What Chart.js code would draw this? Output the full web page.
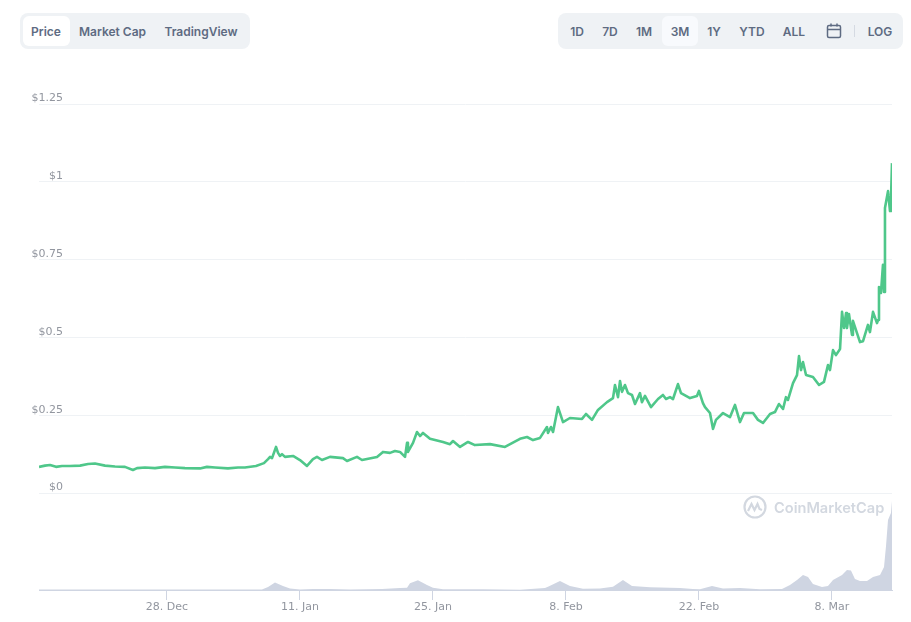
<!DOCTYPE html>
<html>
<head>
<meta charset="utf-8">
<title>Price chart</title>
<script src="https://cdn.jsdelivr.net/npm/chart.js@4/dist/chart.umd.min.js"></script>
<style>
html, body { margin: 0; padding: 0; background: #fff; overflow: hidden; }
#wrap { position: relative; width: 911px; height: 622px; font-family: Inter, sans-serif; }
#graph { position: absolute; left: 0; top: 0; }
.group { position: absolute; top: 13px; height: 36px; background: #eff2f5; border-radius: 8px; }
.active { position: absolute; top: 16px; height: 30px; border-radius: 6px; }
.btn { position: absolute; top: 31px; transform: translate(-50%, -50%); font-size: 12px; font-weight: 600; color: #5e6b82; white-space: nowrap; }
#mark { position: absolute; left: 774px; top: 498px; font-size: 14.6px; font-weight: 600; color: #d3d8e0; line-height: 20px; }
</style>
</head>
<body>
<div id="wrap">
  <canvas id="graph" width="911" height="622"></canvas>
  <div class="group" style="left:20px;width:230px"></div>
  <div class="active" style="left:23px;width:47px;background:#fff"></div>
  <span class="btn" style="left:46px">Price</span>
  <span class="btn" style="left:112.5px">Market Cap</span>
  <span class="btn" style="left:201px">TradingView</span>
  <div class="group" style="left:558px;width:345px"></div>
  <div class="active" style="left:662px;width:36px;background:#f8fafd"></div>
  <span class="btn" style="left:577px">1D</span>
  <span class="btn" style="left:610px">7D</span>
  <span class="btn" style="left:644px">1M</span>
  <span class="btn" style="left:680px">3M</span>
  <span class="btn" style="left:714px">1Y</span>
  <span class="btn" style="left:752px">YTD</span>
  <span class="btn" style="left:794px">ALL</span>
  <svg style="position:absolute;left:826px;top:23px" width="16" height="16" viewBox="0 0 16 16" fill="none" stroke="#5e6b82" stroke-width="1.5">
    <rect x="1.5" y="2.5" width="13" height="12" rx="1.5"></rect>
    <path d="M1.5 6.5h13M5 0.5v3M11 0.5v3"></path>
  </svg>
  <div style="position:absolute;left:854px;top:25px;width:1px;height:12px;background:#d5dae2"></div>
  <span class="btn" style="left:880px">LOG</span>
  <svg style="position:absolute;left:743px;top:495px" width="24" height="24" viewBox="0 0 24 24" fill="none" stroke="#d3d8e0" stroke-width="2.2">
    <circle cx="12" cy="12" r="10.5"></circle>
    <path d="M5 16l3.5-7 3 6 3-6 2 5 2.5 1"></path>
  </svg>
  <div id="mark">CoinMarketCap</div>
</div>
<script>
// days since the left edge of the plot
const priceDays = [
    0, 0.63, 1.16, 1.79, 2.42, 3.26, 4.32, 5.16, 5.89, 6.95, 8, 9.05, 9.89, 10.32, 11.16, 12.21, 13.26, 14.32, 15.37, 16.95,
    17.68, 18.53, 19.89, 20.95, 21.68, 22.84, 23.68, 24.11, 24.32, 24.53, 24.95, 25.16, 25.37, 25.58, 25.89, 26.74, 27.47, 28.21, 28.84, 29.26,
    29.79, 30.63, 32, 32.42, 33.47, 34, 35.58, 36.21, 36.95, 37.47, 38, 38.53, 38.74, 38.84, 39.37, 39.79, 40.11, 40.42, 41.16, 42.53,
    43.26, 43.58, 44.32, 45.16, 45.89, 47.47, 49.05, 50.63, 51.37, 52, 52.74, 53.47, 53.58, 53.89, 54.11, 54.63, 55.16, 55.89, 57.16, 57.58,
    58.21, 58.84, 59.79, 60.42, 60.63, 60.95, 61.16, 61.37, 61.68, 62, 62.42, 62.74, 63.26, 63.47, 63.79, 64.42, 65.16, 65.68, 66, 66.42,
    66.74, 67.26, 67.58, 68.53, 69.26, 69.47, 69.89, 70.11, 70.63, 70.95, 71.26, 72, 72.74, 73.26, 73.79, 74.21, 75.16, 75.68, 76.21, 76.95,
    77.47, 77.89, 78.32, 78.63, 78.84, 79.37, 79.79, 80, 80.21, 80.42, 80.74, 81.47, 82.11, 82.63, 83.05, 83.26, 83.58, 83.89, 84.32, 84.53,
    84.74, 84.95, 85.05, 85.26, 85.58, 85.68, 86.42, 86.74, 87.26, 87.47, 87.79, 88.21, 88.32, 88.42, 88.63, 88.84, 88.95, 89.05, 89.37, 89.58,
    89.68, 89.79
];
const prices = [
    0.084, 0.088, 0.09, 0.084, 0.087, 0.087, 0.088, 0.093, 0.095, 0.088, 0.085, 0.084, 0.074, 0.08, 0.082, 0.08, 0.084, 0.082, 0.08, 0.079,
    0.084, 0.082, 0.079, 0.082, 0.082, 0.087, 0.096, 0.109, 0.116, 0.112, 0.148, 0.129, 0.119, 0.125, 0.116, 0.119, 0.106, 0.087, 0.109, 0.116,
    0.106, 0.116, 0.112, 0.103, 0.116, 0.106, 0.116, 0.132, 0.129, 0.135, 0.132, 0.116, 0.161, 0.132, 0.161, 0.196, 0.183, 0.193, 0.174, 0.164,
    0.157, 0.167, 0.148, 0.164, 0.154, 0.157, 0.148, 0.174, 0.18, 0.17, 0.177, 0.212, 0.193, 0.212, 0.196, 0.276, 0.228, 0.241, 0.238, 0.254,
    0.235, 0.267, 0.292, 0.305, 0.347, 0.308, 0.36, 0.325, 0.347, 0.321, 0.315, 0.286, 0.321, 0.292, 0.312, 0.276, 0.302, 0.315, 0.302, 0.308,
    0.302, 0.35, 0.321, 0.305, 0.312, 0.328, 0.289, 0.276, 0.257, 0.206, 0.235, 0.257, 0.244, 0.283, 0.228, 0.257, 0.257, 0.235, 0.225, 0.254,
    0.26, 0.286, 0.27, 0.308, 0.299, 0.353, 0.379, 0.44, 0.395, 0.421, 0.379, 0.373, 0.347, 0.357, 0.411, 0.395, 0.459, 0.443, 0.463, 0.582,
    0.53, 0.578, 0.53, 0.575, 0.508, 0.553, 0.485, 0.488, 0.54, 0.517, 0.582, 0.546, 0.556, 0.662, 0.643, 0.733, 0.646, 0.916, 0.97, 0.906,
    0.941, 1.06
];
const volumeDays = [
    0, 23.47, 24.11, 24.84, 25.68, 26.42, 27.47, 28.84, 30.63, 32.74, 36.11, 38, 38.74, 39.05, 39.89, 40.84, 41.47, 42.53, 46.74, 50.63,
    53.26, 53.58, 54.84, 55.89, 57.26, 59.05, 60.42, 61.47, 62.42, 64.32, 67.47, 68.84, 69.58, 70.84, 72, 73.79, 75.89, 78.21, 79.05, 79.79,
    80.42, 80.95, 81.47, 82.42, 83.05, 83.58, 84.53, 85.05, 85.47, 85.89, 86.42, 87.16, 87.79, 88.53, 88.95, 89.16, 89.37, 89.68, 89.79
];
const volumes = [
    0.5, 0.5, 3, 7.5, 4, 1.5, 0.5, 1, 1, 0.5, 1, 2, 2.3, 6.7, 9.7, 5, 2.3, 0.7, 0.7, 0.3,
    2, 3.3, 9, 4, 1.3, 1.5, 3.3, 10, 4, 2.7, 2, 1, 0.7, 4, 1.5, 2, 0.7, 1, 5, 10,
    15, 13, 6, 3, 4, 10, 15, 20, 19.5, 11, 9, 9, 13, 15, 23, 44, 70, 77, 89
];
const priceTicks = [0, 0.25, 0.5, 0.75, 1, 1.25];
const priceTickLabels = ['$0', '$0.25', '$0.5', '$0.75', '$1', '$1.25'];
const dateTicks = [13.47, 27.47, 41.47, 55.47, 69.47, 83.47];
const dateLabels = ['28. Dec', '11. Jan', '25. Jan', '8. Feb', '22. Feb', '8. Mar'];

const axisFont = { family: '"DejaVu Sans"', size: 11 };
const axisColor = '#92969f';

new Chart(document.getElementById('graph').getContext('2d'), {
    type: 'line',
    data: {
        datasets: [
            {
                data: priceDays.map((d, i) => ({ x: d, y: prices[i] })),
                yAxisID: 'y',
                borderColor: '#4fc78a',
                borderWidth: 2.6,
                borderJoinStyle: 'round',
                pointRadius: 0,
                tension: 0
            },
            {
                data: volumeDays.map((d, i) => ({ x: d, y: volumes[i] })),
                yAxisID: 'yVol',
                borderWidth: 0,
                backgroundColor: '#cfd5e2',
                fill: 'origin',
                pointRadius: 0,
                tension: 0
            }
        ]
    },
    options: {
        responsive: false,
        animation: false,
        layout: { padding: { top: 104, right: 19, left: 0, bottom: 0 } },
        plugins: { legend: { display: false }, tooltip: { enabled: false } },
        scales: {
            x: {
                type: 'linear',
                min: 0,
                max: 89.79,
                afterBuildTicks: scale => { scale.ticks = dateTicks.map(v => ({ value: v })); },
                afterFit: scale => { scale.height = 32; },
                border: { color: '#cfd5e2', width: 1 },
                grid: { drawOnChartArea: false, drawTicks: true, tickLength: 10, color: '#cfd5e2' },
                ticks: {
                    autoSkip: false,
                    maxRotation: 0,
                    padding: 1,
                    font: axisFont,
                    color: axisColor,
                    callback: v => dateLabels[dateTicks.indexOf(v)]
                }
            },
            y: {
                stack: 'left',
                stackWeight: 389,
                weight: 1,
                min: 0,
                max: 1.25,
                afterBuildTicks: scale => { scale.ticks = priceTicks.map(v => ({ value: v })); },
                afterFit: scale => {
                    scale.width = 39;
                    // labels sit over the plot, so don't clip them to the axis box
                    scale._computeLabelArea = () => null;
                },
                border: { display: false },
                grid: { drawTicks: false, color: '#eff2f5' },
                ticks: {
                    autoSkip: false,
                    align: 'end',
                    crossAlign: 'near',
                    padding: -24,
                    font: axisFont,
                    color: axisColor,
                    callback: v => priceTickLabels[priceTicks.indexOf(v)]
                }
            },
            yVol: {
                stack: 'left',
                stackWeight: 97,
                weight: 0,
                min: 0,
                max: 97,
                afterFit: scale => { scale.width = 39; },
                border: { display: false },
                grid: { display: false },
                ticks: { display: false }
            }
        }
    }
});
</script>
</body>
</html>
